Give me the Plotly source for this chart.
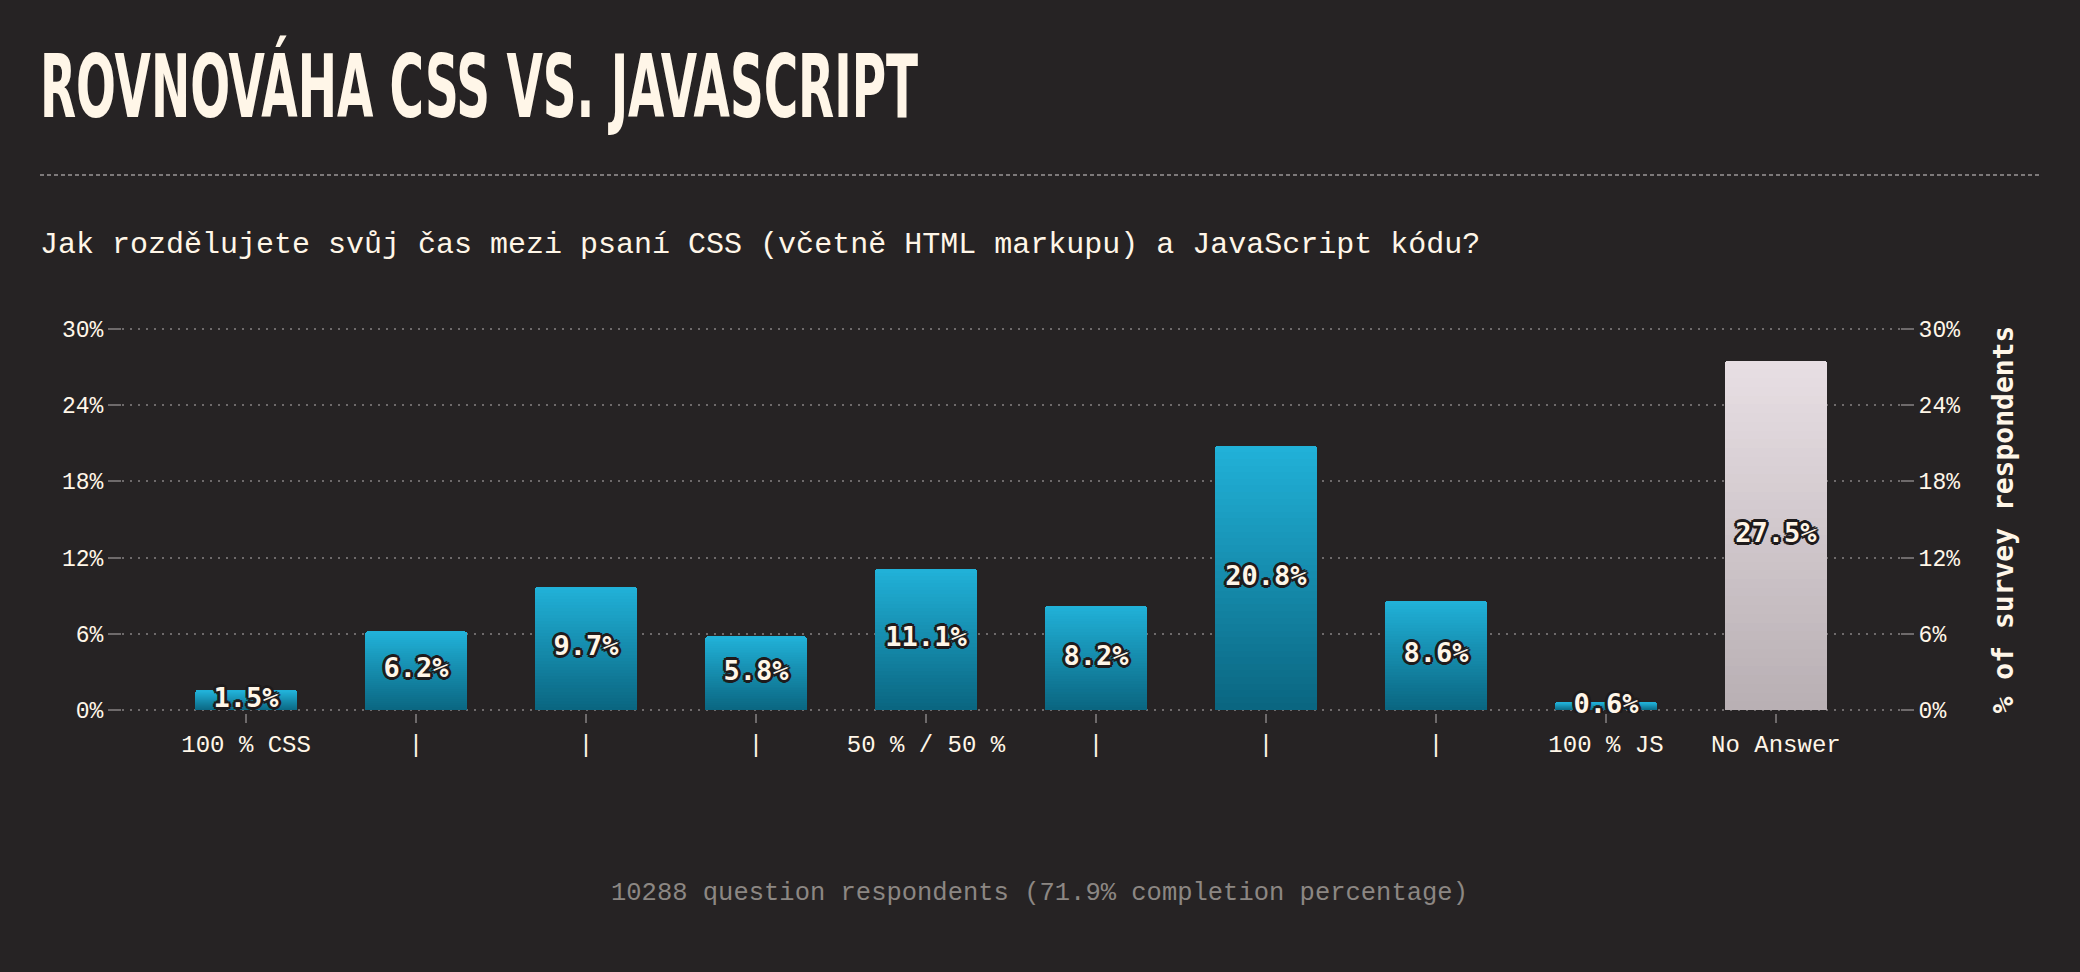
import plotly.graph_objects as go

# ---- data ----
categories = ["100 % CSS", "|", "|", "|", "50 % / 50 %", "|", "|", "|", "100 % JS", "No Answer"]
values = [1.5, 6.2, 9.7, 5.8, 11.1, 8.2, 20.8, 8.6, 0.6, 27.5]
is_no_answer = [False] * 9 + [True]
y_ticks = [0, 6, 12, 18, 24, 30]

title_text = "ROVNOVÁHA CSS VS. JAVASCRIPT"
subtitle_text = "Jak rozdělujete svůj čas mezi psaní CSS (včetně HTML markupu) a JavaScript kódu?"
footer_text = "10288 question respondents (71.9% completion percentage)"
axis_title = "% of survey respondents"

# ---- style ----
BG = "#262324"
CREAM = "#fff6e8"
GRID = "#6e6a6b"
CYAN_TOP = (0x21, 0xb2, 0xd9)
CYAN_BOT = (0x0a, 0x65, 0x80)
GRAY_TOP = (0xe8, 0xdf, 0xe4)
GRAY_BOT = (0xb8, 0xaf, 0xb3)
MONO = "Liberation Mono, DejaVu Sans Mono, monospace"
OUT = "#1e1b1c"

W, H = 2080, 972
Y_TOP, Y_ZERO = 329, 710          # pixel rows of 30% and 0%
UNIT = (Y_ZERO - Y_TOP) / 30.0    # px per percent
PAD = 3                           # px of headroom so edge gridlines are drawn
L, R = 122, 180
T, B = Y_TOP - PAD, H - Y_ZERO - PAD
PW = W - L - R
EXT = PAD / UNIT


def lerp(c0, c1, t):
    return "rgb(%d,%d,%d)" % tuple(round(a + (b - a) * t) for a, b in zip(c0, c1))


def px_x(px):
    return (px - L) / PW


def px_y(py):
    return (H - B - py) / (H - T - B)


x_pos = list(range(len(categories)))
fig = go.Figure()

K = 40  # gradient slices per bar
for k in range(K):
    t = (k + 0.5) / K
    colors = [lerp(GRAY_BOT, GRAY_TOP, t) if na else lerp(CYAN_BOT, CYAN_TOP, t) for na in is_no_answer]
    fig.add_trace(go.Bar(
        x=x_pos, y=[v / K for v in values],
        marker=dict(color=colors, line=dict(width=0)),
        hoverinfo="skip", showlegend=False, yaxis="y",
    ))

shadow = ", ".join(f"{dx}px {dy}px 0 {OUT}" for dx, dy in
                   [(2, 2), (-2, -2), (2, -2), (-2, 2), (0, 3), (0, -3), (3, 0), (-3, 0)])
fig.add_trace(go.Scatter(
    x=x_pos, y=[v / 2 for v in values], mode="text",
    text=[f"{v:.1f}%" for v in values],
    textposition="middle center",
    textfont=dict(family="DejaVu Sans Mono, monospace", size=27, color=CREAM, weight="bold",
                  shadow=shadow),
    hoverinfo="skip", showlegend=False,
))

axis_common = dict(
    range=[-EXT, 30 + EXT], tickvals=y_ticks, ticktext=[f"{v}%" for v in y_ticks],
    zeroline=False, showline=False,
    ticks="outside", ticklen=13, tickwidth=2, tickcolor=GRID,
    tickfont=dict(family=MONO, size=23, color=CREAM),
    fixedrange=True,
)

fig.update_layout(
    width=W, height=H, autosize=False,
    margin=dict(l=L, r=R, t=T, b=B, pad=0),
    paper_bgcolor=BG, plot_bgcolor=BG,
    barmode="stack", bargap=0.4, barcornerradius=3,
    showlegend=False,
    title=dict(
        text=title_text, xref="container", yref="container",
        x=40 / W, xanchor="left", y=1 - 86 / H, yanchor="middle",
        font=dict(family="DejaVu Sans Condensed, DejaVu Sans, sans-serif",
                  size=88, color=CREAM, weight="bold"),
    ),
    xaxis=dict(
        range=[-0.73, 9.73], tickvals=x_pos, ticktext=categories,
        showgrid=False, zeroline=False, showline=False,
        ticks="outside", ticklen=9, tickwidth=2, tickcolor=GRID,
        tickfont=dict(family=MONO, size=24, color=CREAM),
        fixedrange=True,
    ),
    yaxis=dict(side="left", showgrid=True, gridcolor=GRID, gridwidth=2, griddash="2px,6px",
               **axis_common),
    yaxis2=dict(
        side="right", overlaying="y", matches="y", showgrid=False,
        title=dict(text=axis_title, standoff=34,
                   font=dict(family="DejaVu Sans Mono, monospace", size=28, color=CREAM, weight="bold")),
        **axis_common,
    ),
    shapes=[dict(
        type="line", xref="paper", yref="paper",
        x0=px_x(40), x1=px_x(2040), y0=px_y(175), y1=px_y(175),
        line=dict(color="#9a9696", width=1.5, dash="4px,3px"),
    )],
    annotations=[
        dict(text=subtitle_text, xref="paper", yref="paper", x=px_x(38), y=px_y(245),
             xanchor="left", yanchor="middle", showarrow=False,
             font=dict(family=MONO, size=30, color=CREAM)),
        dict(text=footer_text, xref="paper", yref="paper", x=px_x(1039), y=px_y(893),
             xanchor="center", yanchor="middle", showarrow=False,
             font=dict(family=MONO, size=25.5, color="#8c8783")),
    ],
)

# invisible trace so the right axis renders
fig.add_trace(go.Scatter(x=[0], y=[0], yaxis="y2", mode="markers", marker=dict(opacity=0),
                         hoverinfo="skip", showlegend=False))

# condense the headline to the reference's narrow display width
post = """
var gd = document.getElementById('{plot_id}');
var t = gd.querySelector('.gtitle');
if (t) { t.setAttribute('textLength', '878'); t.setAttribute('lengthAdjust', 'spacingAndGlyphs'); }
"""
fig.write_html("out.html", config={"displayModeBar": False}, post_script=post)
